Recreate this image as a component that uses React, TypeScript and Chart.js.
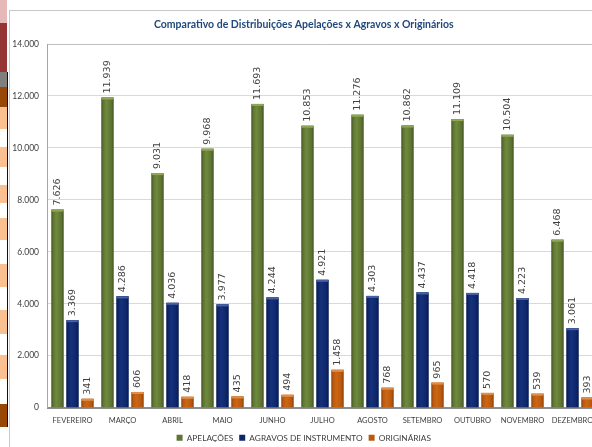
import React, { useEffect, useRef } from "react";
import { Chart, registerables } from "chart.js";

Chart.register(...registerables);

const titleText = "Comparativo de Distribuições Apelações x Agravos x Originários";
const categories = ["FEVEREIRO", "MARÇO", "ABRIL", "MAIO", "JUNHO", "JULHO", "AGOSTO", "SETEMBRO", "OUTUBRO", "NOVEMBRO", "DEZEMBRO"];
const seriesNames = ["APELAÇÕES", "AGRAVOS DE INSTRUMENTO", "ORIGINÁRIAS"];
const apelacoes = [7626, 11939, 9031, 9968, 11693, 10853, 11276, 10862, 11109, 10504, 6468];
const agravos = [3369, 4286, 4036, 3977, 4244, 4921, 4303, 4437, 4418, 4223, 3061];
const originarias = [341, 606, 418, 435, 494, 1458, 768, 965, 570, 539, 393];
const yMin = 0;
const yMax = 14000;
const yStep = 2000;

const NARROW = "Lato, 'Liberation Sans', sans-serif";

const barStyles = [
  { base: "#5e7433", edge: "#465726", light: "#6f8a3c", cap: "#8ea856" },
  { base: "#0e276b", edge: "#061a4c", light: "#16317c", cap: "#4662a0" },
  { base: "#ba5a0f", edge: "#8e430a", light: "#cb6614", cap: "#e08e4a" },
];

const fmt = (v: number) => String(v).replace(/\B(?=(\d{3})+(?!\d))/g, ".");

const barPaint = {
  id: "barPaint",
  afterDatasetsDraw(chart: any) {
    const ctx = chart.ctx as CanvasRenderingContext2D;
    chart.data.datasets.forEach((ds: any, i: number) => {
      const meta = chart.getDatasetMeta(i);
      const st = barStyles[i];
      meta.data.forEach((el: any, j: number) => {
        const { x, y, base, width } = el.getProps(["x", "y", "base", "width"], true);
        const l = x - width / 2;
        const h = base - y;
        ctx.save();
        const g = ctx.createLinearGradient(l, 0, l + width, 0);
        g.addColorStop(0, st.edge);
        g.addColorStop(0.15, st.base);
        g.addColorStop(0.4, st.light);
        g.addColorStop(0.8, st.base);
        g.addColorStop(1, st.edge);
        ctx.fillStyle = g;
        ctx.fillRect(l, y, width, h);
        ctx.fillStyle = st.cap;
        ctx.fillRect(l, y, width, Math.min(2, h));
        ctx.restore();

        ctx.save();
        ctx.translate(x, y - 4);
        ctx.rotate(-Math.PI / 2);
        ctx.font = "9.5px 'DejaVu Sans', sans-serif";
        ctx.fillStyle = "#404040";
        ctx.textAlign = "left";
        ctx.textBaseline = "middle";
        ctx.fillText(fmt(ds.data[j]), 0, 0);
        ctx.restore();
      });
    });
  },
};

const stripBlocks: [number, number, string][] = [
  [0, 23, "#e6b9b8"],
  [23, 72, "#963634"],
  [72, 87, "#7f7f7f"],
  [87, 107, "#974706"],
  [107, 129, "#fac090"],
  [147, 167, "#fac090"],
  [185, 203, "#fac090"],
  [218, 240, "#fac090"],
  [264, 287, "#fac090"],
  [310, 334, "#fac090"],
  [355, 379, "#fac090"],
  [404, 427, "#974706"],
];

export default function App() {
  const ref = useRef<HTMLCanvasElement | null>(null);

  useEffect(() => {
    if (!ref.current) return;
    const chart = new Chart(ref.current, {
      type: "bar",
      data: {
        labels: categories,
        datasets: [
          { label: seriesNames[0], data: apelacoes, backgroundColor: barStyles[0].base, borderWidth: 0 },
          { label: seriesNames[1], data: agravos, backgroundColor: barStyles[1].base, borderWidth: 0 },
          { label: seriesNames[2], data: originarias, backgroundColor: barStyles[2].base, borderWidth: 0 },
        ],
      },
      options: {
        responsive: false,
        animation: false,
        devicePixelRatio: 1,
        layout: { padding: { left: 0, right: 12.5, top: 0, bottom: 0 } },
        datasets: { bar: { categoryPercentage: 0.9, barPercentage: 0.8 } },
        plugins: {
          title: {
            display: true,
            text: titleText,
            color: "#1f497d",
            font: { family: NARROW, size: 10.5, weight: "bold" },
            padding: { top: 8.7, bottom: 12.7 },
          },
          legend: {
            position: "bottom",
            labels: {
              boxWidth: 6,
              boxHeight: 6,
              padding: 6,
              color: "#404040",
              font: { family: NARROW, size: 8.3 },
            },
          },
          tooltip: { enabled: false },
        },
        scales: {
          x: {
            grid: { display: true, drawOnChartArea: false, drawTicks: false },
            border: { color: "#8c8c8c", width: 2 },
            ticks: { color: "#404040", padding: 8.5, font: { family: NARROW, size: 7.5 }, maxRotation: 0, autoSkip: false },
            afterFit: (s: any) => { s.height = 20; },
          },
          y: {
            min: yMin,
            max: yMax,
            ticks: {
              stepSize: yStep,
              color: "#404040",
              padding: 8.5,
              font: { family: NARROW, size: 8.5 },
              callback: (v: any) => fmt(Number(v)),
            },
            grid: {
              drawTicks: false,
              color: (c: any) => (c.tick && c.tick.value === yMax ? "#bfbfbf" : "#d9d9d9"),
            },
            border: { color: "#a6a6a6", width: 1 },
            afterFit: (s: any) => { s.width = 37.5; },
          },
        },
      },
      plugins: [barPaint],
    });
    return () => chart.destroy();
  }, []);

  return (
    <div style={{ position: "fixed", left: 0, top: 0, width: 592, height: 447, overflow: "hidden", background: "#ffffff" }}>
      {stripBlocks.map(([a, b, c], i) => (
        <div key={i} style={{ position: "absolute", left: 0, top: a, width: 7, height: b - a, background: c }} />
      ))}
      <div style={{ position: "absolute", left: 7, top: 72, width: 1, height: 355, background: "#111" }} />
      <div style={{ position: "absolute", left: 9, top: 10, width: 1, height: 437, background: "#c8c8c8" }} />
      <div style={{ position: "absolute", left: 9, top: 10, width: 583, height: 1, background: "#c8c8c8" }} />
      <canvas
        ref={ref}
        width={600}
        height={442}
        style={{ position: "absolute", left: 10, top: 10, width: 600, height: 442 }}
      />
    </div>
  );
}
